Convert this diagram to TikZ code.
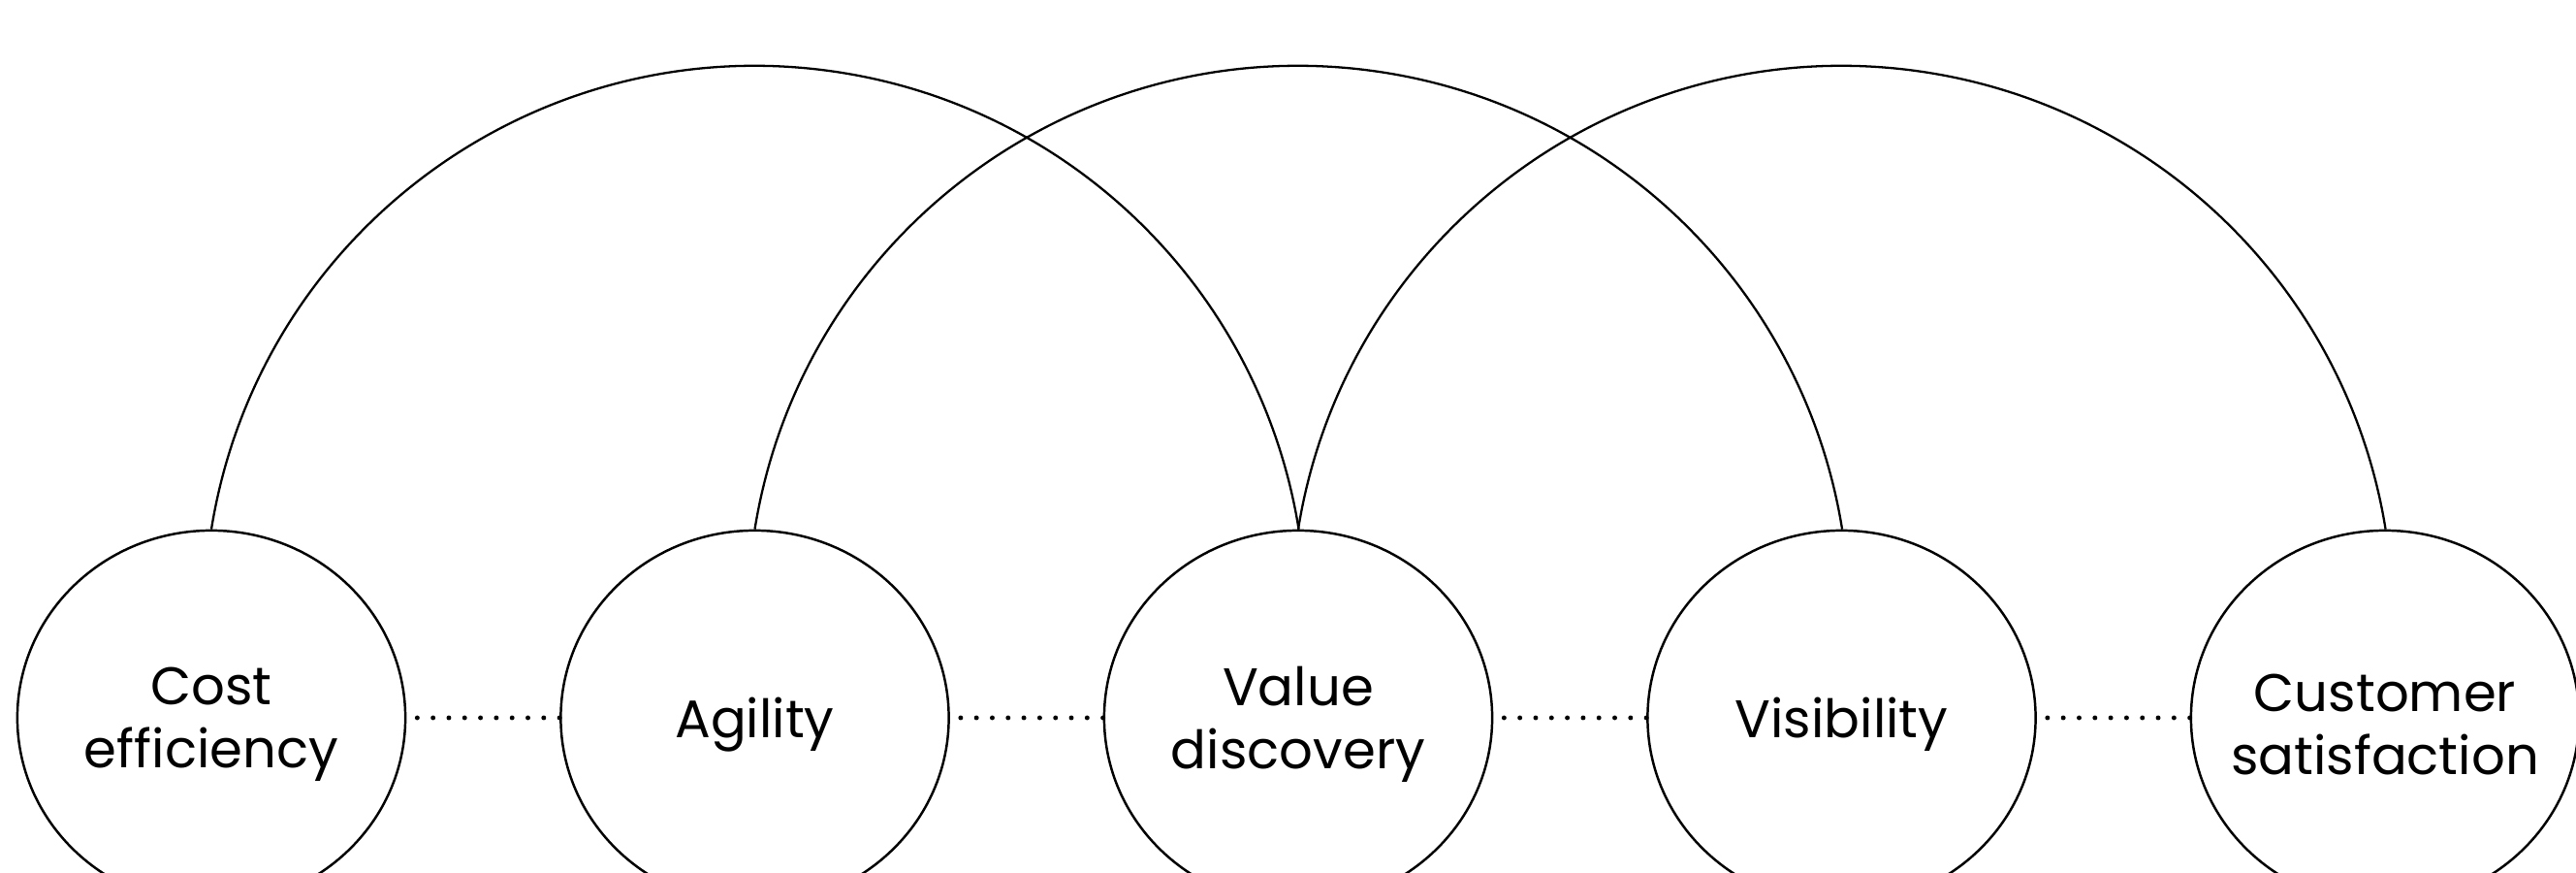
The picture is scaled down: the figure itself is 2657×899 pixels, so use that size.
\documentclass[tikz,border=0pt]{standalone}
\usepackage{fontspec}
\setmainfont{Poppins}
\usetikzlibrary{shapes.geometric}
\begin{document}
\begin{tikzpicture}[x=0.01cm,y=0.01cm,
  valuebox/.style={draw=black, line width=0.7pt, shape=ellipse, minimum width=4cm, minimum height=3.86cm, inner sep=0pt,
    label={[align=center, font=\fontsize{15.5}{18.5}\selectfont, inner sep=0pt, yshift=-0.07cm]center:#1}},
  dotline/.style={line width=1.4pt, line cap=round, dash pattern=on 0pt off 0.163cm, shorten <=0.11cm},
  arcline/.style={line width=0.65pt}]
\useasboundingbox (0,0) rectangle (2657,899);
\clip (0,0) rectangle (2657,899);
\node[valuebox={Cost\\efficiency}] (cost) at (218,159) {};
\node[valuebox={Agility}] (agility) at (778.5,159) {};
\node[valuebox={Value\\discovery}] (value) at (1339,159) {};
\node[valuebox={Visibility}] (visibility) at (1899.5,159) {};
\node[valuebox={Customer\\satisfaction}] (customer) at (2460,159) {};
\draw[dotline] (cost.east) -- (agility.west);
\draw[dotline] (agility.east) -- (value.west);
\draw[dotline] (value.east) -- (visibility.west);
\draw[dotline] (visibility.east) -- (customer.west);
\draw[arcline] (cost.north) arc[start angle=170.86, end angle=9.14, radius=5.677cm];
\draw[arcline] (agility.north) arc[start angle=170.86, end angle=9.14, radius=5.677cm];
\draw[arcline] (value.north) arc[start angle=170.86, end angle=9.14, radius=5.677cm];
\end{tikzpicture}
\end{document}
